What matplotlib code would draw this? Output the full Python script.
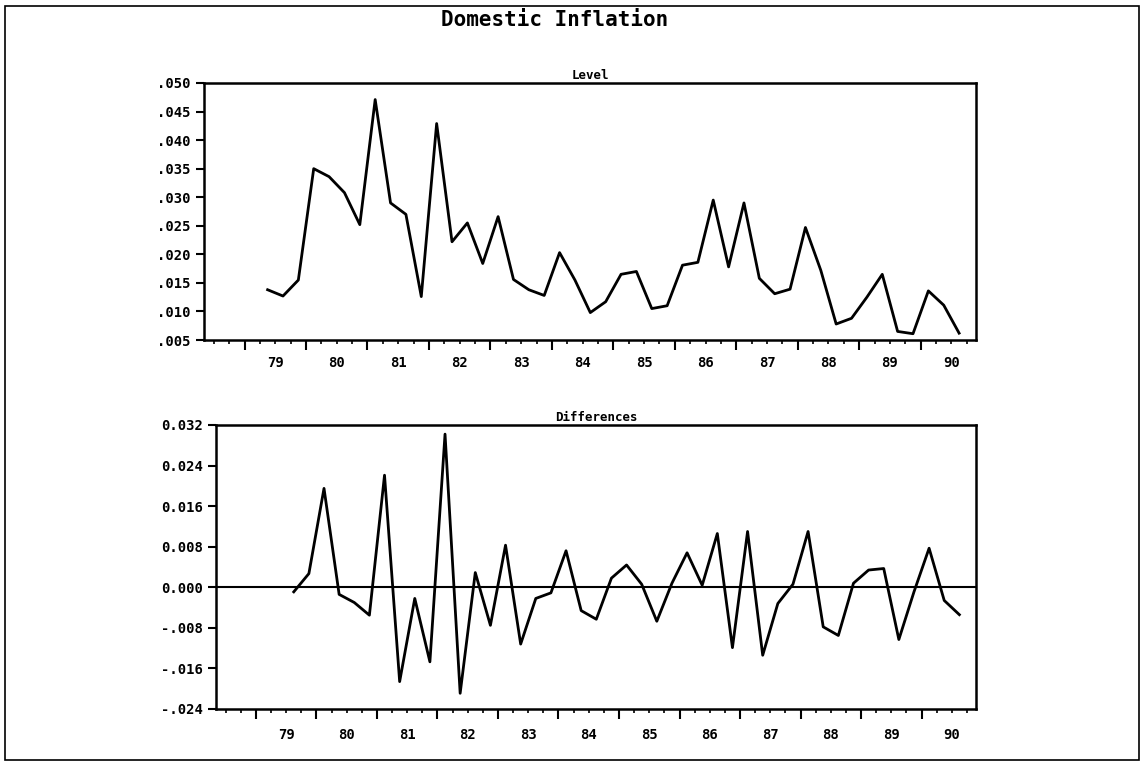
import matplotlib
matplotlib.use("Agg")
import matplotlib.pyplot as plt
from matplotlib.patches import Rectangle
import numpy as np

level = [.0138, .0127, .0155, .0350, .0336, .0308, .0252, .0471, .0290, .0270,
         .0126, .0429, .0222, .0255, .0184, .0266, .0156, .0138, .0128, .0203,
         .0155, .0098, .0117, .0165, .0170, .0105, .0110, .0181, .0186, .0295,
         .0178, .0290, .0158, .0131, .0139, .0247, .0172, .0078, .0088, .0125,
         .0165, .0065, .0061, .0136, .0111, .0062]
diffs = [-.0009, .0027, .0195, -.0014, -.0030, -.0055, .0221, -.0186, -.0022, -.0147,
         .0302, -.0209, .0029, -.0075, .0083, -.0112, -.0022, -.0011, .0072, -.0046,
         -.0063, .0018, .0044, .0006, -.0067, .0008, .0068, .0004, .0106, -.0119,
         .0110, -.0134, -.0032, .0006, .0110, -.0078, -.0095, .0008, .0034, .0037,
         -.0103, -.0009, .0077, -.0026, -.0054]
years = list(range(1979, 1991))
year_labels = ["79", "80", "81", "82", "83", "84", "85", "86", "87", "88", "89", "90"]
top_ticks = [.005, .010, .015, .020, .025, .030, .035, .040, .045, .050]
top_labels = [".005", ".010", ".015", ".020", ".025", ".030", ".035", ".040", ".045", ".050"]
bot_ticks = [-.024, -.016, -.008, 0.0, .008, .016, .024, .032]
bot_labels = ["-.024", "-.016", "-.008", "0.000", "0.008", "0.016", "0.024", "0.032"]

x_level = 1979.375 + 0.25 * np.arange(len(level))
x_diff = x_level[1:]

W, H = 1145, 766
fig = plt.figure(figsize=(W / 100, H / 100), dpi=100)
fig.patches.append(Rectangle((5 / W, 6 / H), 1134 / W, 754 / H, transform=fig.transFigure,
                             fill=False, lw=1.2, ec="black"))
font = dict(family="DejaVu Sans Mono", weight="bold")

def mkax(l, r, t, b):
    return fig.add_axes([l / W, 1 - b / H, (r - l) / W, (b - t) / H])

def style(ax, x0, x1):
    ax.set_xlim(x0, x1)
    ax.set_xticks(years)
    ax.set_xticklabels([])
    ax.set_xticks(np.arange(1978.5, 1991, 0.25), minor=True)
    ax.tick_params(axis="x", which="major", direction="out", length=7, width=1.5)
    ax.tick_params(axis="x", which="minor", direction="out", length=3, width=1.2)
    ax.tick_params(axis="y", direction="out", length=6, width=1.5, labelsize=10)
    for s in ax.spines.values():
        s.set_linewidth(1.8)
    for lab in ax.get_yticklabels():
        lab.set_fontfamily("DejaVu Sans Mono"); lab.set_fontweight("bold")
    for y, t in zip(years, year_labels):
        ax.text(y + 0.5, -0.09, t, transform=ax.get_xaxis_transform(), ha="center",
                va="center", fontsize=10, **font)

ax1 = mkax(204, 976, 83, 340)
ax1.plot(x_level, level, color="black", lw=2)
ax1.set_ylim(0.005, 0.050)
ax1.set_yticks(top_ticks)
ax1.set_yticklabels(top_labels)
style(ax1, 1978.34, 1990.9)
ax1.set_title("Level", fontsize=9, pad=3, **font)

ax2 = mkax(216, 976, 425, 709)
ax2.plot(x_diff, diffs, color="black", lw=2)
ax2.axhline(0, color="black", lw=1.5)
ax2.set_ylim(-0.024, 0.032)
ax2.set_yticks(bot_ticks)
ax2.set_yticklabels(bot_labels)
style(ax2, 1978.34, 1990.9)
ax2.set_title("Differences", fontsize=9, pad=3, **font)

fig.text(555 / W, 1 - 20 / H, "Domestic Inflation", ha="center", va="center", fontsize=15, **font)
fig.savefig("out.png", dpi=100)
